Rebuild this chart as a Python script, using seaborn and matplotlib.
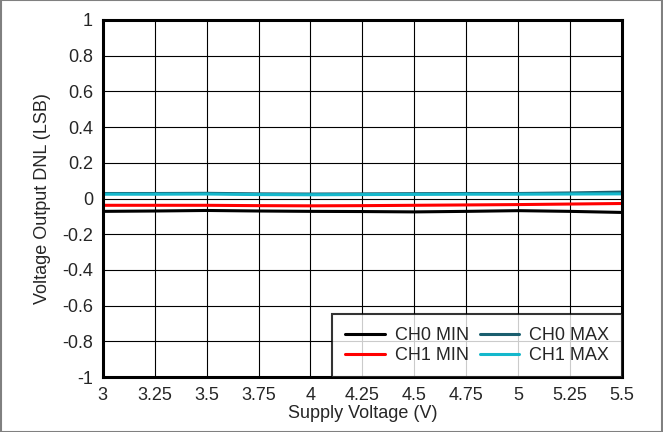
import pandas as pd
import numpy as np
import matplotlib.pyplot as plt
import seaborn as sns

# supply voltage points
supply = [3, 3.25, 3.5, 3.75, 4, 4.25, 4.5, 4.75, 5, 5.25, 5.5]

ch0_min = [-0.072, -0.070, -0.067, -0.070, -0.072, -0.073, -0.075, -0.072, -0.068, -0.072, -0.078]
ch1_min = [-0.038, -0.038, -0.038, -0.040, -0.041, -0.040, -0.038, -0.036, -0.034, -0.031, -0.028]
ch0_max = [0.028, 0.028, 0.029, 0.026, 0.025, 0.026, 0.027, 0.028, 0.028, 0.031, 0.036]
ch1_max = [0.024, 0.024, 0.025, 0.022, 0.021, 0.022, 0.023, 0.024, 0.024, 0.025, 0.026]

series_names = ["CH0 MIN", "CH1 MIN", "CH0 MAX", "CH1 MAX"]
colors = ["#000000", "#ff0000", "#1a5e6e", "#14b8cc"]

df = pd.DataFrame({
    "Supply": supply * 4,
    "DNL": ch0_min + ch1_min + ch0_max + ch1_max,
    "Series": [s for s in series_names for _ in supply],
})

sns.set_style("white")
plt.rcParams['font.family'] = ['Liberation Sans', 'DejaVu Sans']

fig = plt.figure(figsize=(6.63, 4.32), dpi=100)
ax = fig.add_axes([0.155, 0.127, 0.783, 0.827])

sns.lineplot(data=df, x="Supply", y="DNL", hue="Series", hue_order=series_names,
             palette=colors, linewidth=2.2, ax=ax, legend=False)

ax.set_xlim(3, 5.5)
ax.set_ylim(-1, 1)
ax.set_xticks(np.arange(3, 5.51, 0.25))
ax.set_xticklabels(["3", "3.25", "3.5", "3.75", "4", "4.25", "4.5", "4.75", "5", "5.25", "5.5"])
ax.set_yticks(np.arange(-1, 1.01, 0.2))
ax.set_yticklabels(["-1", "-0.8", "-0.6", "-0.4", "-0.2", "0", "0.2", "0.4", "0.6", "0.8", "1"])
ax.grid(True, color="black", linewidth=0.8)
ax.tick_params(labelsize=13, length=0, pad=7)
for sp in ax.spines.values():
    sp.set_color("black")
    sp.set_linewidth(2.2)
ax.set_xlabel("Supply Voltage (V)", fontsize=13, labelpad=1)
ax.set_ylabel("Voltage Output DNL (LSB)", fontsize=13, labelpad=8)

# legend order: CH0 MIN, CH1 MIN | CH0 MAX, CH1 MAX
handles = [plt.Line2D([], [], color=c, linewidth=2.2) for c in colors]
leg = ax.legend(handles, series_names, loc="lower right", ncol=2, fontsize=13,
                frameon=True, fancybox=False, borderaxespad=0, handlelength=2.2,
                columnspacing=0.6, labelspacing=0.2, handletextpad=0.55, borderpad=0.7)
leg.get_frame().set_edgecolor("black")
leg.get_frame().set_linewidth(1.5)

# grey border around figure
fig.patches.append(plt.Rectangle((0.001, 0.001), 0.998, 0.998, transform=fig.transFigure,
                                 fill=False, edgecolor="#808080", linewidth=1.5))

plt.savefig("out.png", dpi=100)
